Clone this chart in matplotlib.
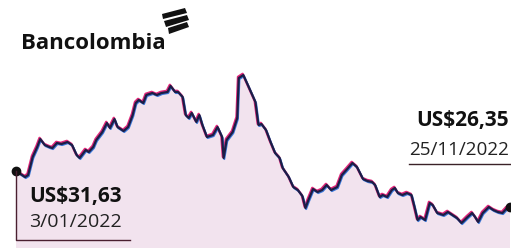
import matplotlib.pyplot as plt
from matplotlib.patches import Polygon
from matplotlib.transforms import offset_copy

# days since 3/01/2022 and closing price (US$)
days = [0, 6, 8, 11, 14, 16, 19, 22, 24, 27, 30, 34, 37, 40, 42, 46, 48, 51, 53, 57,
        60, 62, 65, 67, 71, 74, 77, 79, 81, 84, 86, 90, 93, 96, 100, 102, 105, 107, 110, 112,
        114, 116, 119, 121, 123, 126, 130, 133, 136, 137, 139, 143, 146, 147, 150, 153, 158, 160, 162, 165,
        168, 171, 174, 176, 180, 183, 186, 189, 191, 193, 196, 199, 202, 205, 208, 212, 215, 218, 222, 225,
        229, 232, 235, 237, 240, 242, 245, 248, 250, 252, 255, 258, 261, 263, 265, 267, 270, 273, 275, 278,
        282, 285, 288, 291, 294, 298, 301, 303, 305, 308, 312, 315, 318, 321, 324, 326]
prices = [31.63, 30.75, 31.04, 33.68, 35.15, 36.32, 35.44, 35.15, 35.00, 35.74, 35.59, 35.88, 35.44, 33.98, 33.54, 34.71, 34.42, 35.15, 36.18, 37.35,
          38.67, 37.94, 39.26, 38.08, 37.50, 38.08, 39.84, 41.60, 42.04, 41.60, 42.78, 43.07, 42.78, 43.07, 43.22, 44.10, 43.22, 43.22, 42.48, 39.84,
          39.40, 40.14, 38.82, 39.84, 38.38, 36.62, 36.91, 38.08, 36.62, 33.54, 36.18, 37.35, 39.40, 45.27, 45.71, 44.24, 41.75, 38.38, 38.52, 37.64,
          35.88, 34.27, 33.54, 32.07, 30.75, 29.28, 28.84, 27.96, 26.20, 27.38, 28.99, 28.55, 28.84, 29.58, 28.84, 29.28, 31.04, 31.78, 32.80, 32.22,
          30.46, 30.16, 30.02, 29.58, 27.82, 28.11, 27.82, 28.84, 29.14, 28.40, 28.11, 28.40, 28.11, 26.35, 24.44, 24.88, 24.44, 26.94, 26.64, 25.47,
          25.18, 25.62, 25.18, 24.74, 24.00, 24.88, 25.47, 24.88, 24.15, 25.47, 26.35, 25.91, 25.62, 25.47, 26.20, 26.35]

first_label = ("US$31,63", "3/01/2022")
last_label = ("US$26,35", "25/11/2022")
brand = "Bancolombia"

W, H = 511, 248
fig = plt.figure(figsize=(W / 100, H / 100), dpi=100)
ax = fig.add_axes([0, 0, 1, 1])
ax.set_xlim(-10.56, 326.66)
ax.set_ylim(20.34, 56.71)
ax.axis("off")


def px(x, y):
    # pixel position (from top-left) -> figure fraction
    return x / W, 1 - y / H


# shaded area under the line
ax.fill_between(days, prices, 0, color="#f2e3ee", lw=0, zorder=1)

# misregistered print look: magenta and blue ghosts under the navy line
pink = offset_copy(ax.transData, fig=fig, x=-0.7, y=1.1, units="dots")
blue = offset_copy(ax.transData, fig=fig, x=0.7, y=-1.1, units="dots")
ax.plot(days, prices, color="#e0287a", lw=1.8, transform=pink, zorder=2)
ax.plot(days, prices, color="#3a78d8", lw=1.4, transform=blue, zorder=2)
ax.plot(days, prices, color="#1d1d45", lw=1.6, zorder=3)

# end points
ax.plot([days[0], days[-1]], [prices[0], prices[-1]], "o", color="#111111", ms=6, zorder=4)

# left annotation: leader line down and under the label
x0, y0 = px(16, 171)
x1, y1 = px(16, 240)
x2, _ = px(130, 240)
fig.add_artist(plt.Line2D([x0, x1, x2], [y0, y1, y1], color="#4a1f30", lw=1.0))
fig.text(*px(29, 202), first_label[0], fontsize=15, fontweight="bold",
         family="Open Sans", color="#111111", va="baseline")
fig.text(*px(29, 227), first_label[1], fontsize=14, family="Open Sans",
         color="#222222", va="baseline")

# right annotation
xa, ya = px(409, 164)
fig.add_artist(plt.Line2D([xa, 1.0], [ya, ya], color="#3a2228", lw=1.0))
fig.text(*px(416, 126), last_label[0], fontsize=15, fontweight="bold",
         family="Open Sans", color="#111111", va="baseline")
fig.text(*px(409, 155), last_label[1], fontsize=13.6, family="Open Sans",
         color="#222222", va="baseline")

# logo
fig.text(*px(21, 49), brand, fontsize=16, fontweight="bold", family="Open Sans",
         color="#111111", va="baseline")
bars = [
    [(162, 14), (185, 8), (187, 13), (163, 19)],
    [(164, 21), (187, 15), (189, 20), (166, 27)],
    [(168, 28), (187, 22), (189, 27), (169, 34)],
]
for b in bars:
    fig.add_artist(Polygon([px(x, y) for x, y in b], closed=True,
                           transform=fig.transFigure, color="#111111", lw=0))

fig.savefig("out.png", dpi=100)
